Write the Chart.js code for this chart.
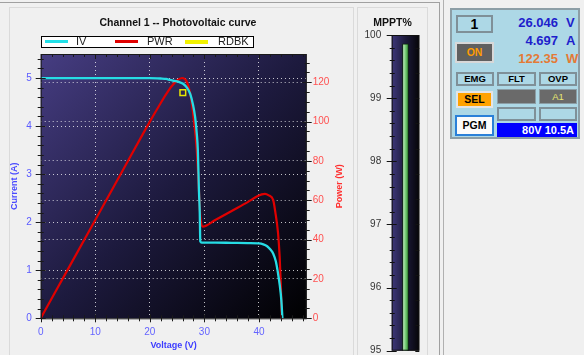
<!DOCTYPE html>
<html>
<head>
<meta charset="utf-8">
<script src="https://cdn.jsdelivr.net/npm/chart.js@4.4.1/dist/chart.umd.min.js"></script>
<style>
  body { margin: 0; width: 584px; height: 355px; background: #f0f0f0; overflow: hidden; position: relative;
         font-family: 'Liberation Sans', Arial, sans-serif; }
  .abs { position: absolute; box-sizing: border-box; }
  .txt { white-space: nowrap; }
  .lbl { border: 2px solid #7f9098; background: #add8e6; font-weight: bold; font-size: 9.5px; color: #000;
         text-align: center; line-height: 10px; }
</style>
</head>
<body>
<!-- frames -->
<div class="abs" style="left:0;top:2px;width:440px;height:1px;background:#a0a0a0"></div>
<div class="abs" style="left:439px;top:2px;width:1px;height:353px;background:#a0a0a0"></div>
<div class="abs" style="left:443px;top:0;width:1px;height:355px;background:#b0b0b0"></div>
<div class="abs" style="left:9px;top:7px;width:345px;height:360px;border:1px solid #dadada"></div>
<div class="abs" style="left:357px;top:7px;width:71px;height:360px;border:1px solid #dadada"></div>

<canvas id="pvChart" class="abs" width="354" height="355" style="left:0;top:0;width:354px;height:355px"></canvas>
<canvas id="mpptChart" class="abs" width="71" height="355" style="left:357px;top:0;width:71px;height:355px"></canvas>

<!-- titles + legend -->
<div class="abs txt" style="left:60px;top:16px;width:236px;text-align:center;font-weight:bold;font-size:10.5px;color:#111">Channel 1 -- Photovoltaic curve</div>
<div class="abs txt" style="left:357px;top:16px;width:71px;text-align:center;font-weight:bold;font-size:10.5px;color:#111">MPPT%</div>
<div class="abs" style="left:41px;top:36px;width:213px;height:12px;border:1px solid #000;background:#fff"></div>
<div class="abs" style="left:45px;top:40px;width:23px;height:3px;background:#22e0e8"></div>
<div class="abs txt" style="left:76px;top:35px;font-size:11px;line-height:13px;color:#222">IV</div>
<div class="abs" style="left:115px;top:40px;width:23px;height:3px;background:#e00000"></div>
<div class="abs txt" style="left:147px;top:35px;font-size:11px;line-height:13px;color:#222">PWR</div>
<div class="abs" style="left:185px;top:39.5px;width:23px;height:4px;background:#f2f200"></div>
<div class="abs txt" style="left:218px;top:35px;font-size:11px;line-height:13px;color:#222">RDBK</div>

<!-- status panel -->
<div class="abs" style="left:450px;top:8px;width:130px;height:131px;border:2px solid #8c9ea6;background:#add8e6"></div>
<div class="abs lbl" style="left:456px;top:15px;width:37px;height:18px;font-size:14px;line-height:14px">1</div>
<div class="abs txt" style="left:500px;top:15px;width:58px;text-align:right;font-weight:bold;font-size:13px;color:#1e1ecc">26.046</div>
<div class="abs txt" style="left:566px;top:15px;font-weight:bold;font-size:13px;color:#1e1ecc">V</div>
<div class="abs txt" style="left:500px;top:33px;width:58px;text-align:right;font-weight:bold;font-size:13px;color:#1e1ecc">4.697</div>
<div class="abs txt" style="left:566px;top:33px;font-weight:bold;font-size:13px;color:#1e1ecc">A</div>
<div class="abs txt" style="left:500px;top:51px;width:58px;text-align:right;font-weight:bold;font-size:13px;color:#e47a36">122.35</div>
<div class="abs txt" style="left:566px;top:51px;font-weight:bold;font-size:13px;color:#e47a36">W</div>
<div class="abs" style="left:455px;top:42px;width:39px;height:21px;border:2px solid #d8d8d8;background:#606060;color:#ff9c00;font-weight:bold;font-size:10.5px;text-align:center;line-height:17px">ON</div>
<div class="abs lbl" style="left:456px;top:72px;width:38px;height:14px">EMG</div>
<div class="abs lbl" style="left:497px;top:72px;width:39px;height:14px">FLT</div>
<div class="abs lbl" style="left:539px;top:72px;width:38px;height:14px">OVP</div>
<div class="abs" style="left:456px;top:91px;width:37px;height:17px;border:2px solid #e4e4e4;background:#ffa200;color:#000;font-weight:bold;font-size:10.5px;text-align:center;line-height:13px">SEL</div>
<div class="abs" style="left:497px;top:89px;width:39px;height:15px;border:1px solid #8c9ea6;background:#6a6a6a"></div>
<div class="abs" style="left:539px;top:89px;width:38px;height:15px;border:1px solid #8c9ea6;background:#6a6a6a;color:#e8e870;font-size:9.5px;text-align:center;line-height:13px">A1</div>
<div class="abs lbl" style="left:497px;top:107px;width:39px;height:14px"></div>
<div class="abs lbl" style="left:539px;top:107px;width:38px;height:14px"></div>
<div class="abs" style="left:455px;top:115px;width:39px;height:21px;border:2px solid #2a80d8;background:#fbfbfb;color:#000;font-weight:bold;font-size:10.5px;text-align:center;line-height:17px">PGM</div>
<div class="abs txt" style="left:497px;top:123px;width:80px;height:14px;background:#0000ff;color:#fff;font-weight:bold;font-size:11px;text-align:right;padding-right:3px;line-height:14px">80V 10.5A</div>

<script>
Chart.defaults.font.family = "'Liberation Sans', Arial, sans-serif";
Chart.defaults.font.size = 10;

// IV curve (readback from picture)
const ivVoltage = [0, 5, 10, 15, 20, 22, 23, 23.7, 24.5, 25.3, 26.1, 26.8, 27.4, 27.9, 28.3, 28.6, 28.8, 29.0, 29.15, 29.25, 29.5, 32, 35, 38, 40, 40.8, 41.5, 42.1, 42.6, 43.1, 43.5, 43.8, 44.1, 44.3];
const ivCurrent = [5.0, 5.0, 5.0, 5.0, 5.0, 4.99, 4.98, 4.96, 4.94, 4.92, 4.88, 4.80, 4.67, 4.45, 4.19, 3.85, 3.50, 2.66, 2.2, 1.6, 1.575, 1.575, 1.57, 1.565, 1.56, 1.54, 1.50, 1.43, 1.35, 1.18, 0.93, 0.7, 0.38, 0];

// power curve
const pwrVoltage = [0, 5, 10, 15, 20, 22, 23, 24, 25, 25.9, 26.75, 27.5, 28.0, 28.6, 29.0, 29.25, 29.7, 32, 35, 38, 39.6, 40.5, 41.1, 41.8, 42.6, 43.0, 43.5, 43.8, 44.0, 44.2];
const pwrPower = [0, 25, 50, 75, 100, 109.5, 114, 118, 121, 122.2, 120.4, 112.7, 102.6, 85.6, 65.3, 52, 46.6, 50, 54.6, 59.2, 61.9, 63.0, 63.3, 62.5, 60.2, 54, 43.3, 31, 17.8, 0];

// readback point
const rdbkVoltage = [26.046];
const rdbkCurrent = [4.697];

// tick labels
const voltageTicks = [0, 10, 20, 30, 40];
const currentTicks = [0, 1, 2, 3, 4, 5];
const powerTicks = [0, 20, 40, 60, 80, 100, 120];

// MPPT gauge
const mpptLabels = ['MPPT%'];
const mpptValues = [99.86];
const mpptTicks = [95, 96, 97, 98, 99, 100];

const toXY = (xs, ys) => xs.map((x, i) => ({ x: x, y: ys[i] }));
const setTicks = arr => scale => { scale.ticks = arr.map(v => ({ value: v })); };
const dotted = c => (c.tick && c.tick.value === 0) ? 'rgba(0,0,0,0)' : 'rgba(255,255,255,0.75)';

// dark gradient behind the plot
const plotBg = {
  id: 'plotBg',
  beforeDraw(chart, args, opts) {
    const a = chart.chartArea, ctx = chart.ctx;
    const g = opts.horizontal
      ? ctx.createLinearGradient(a.left, 0, a.right, 0)
      : ctx.createLinearGradient(a.left, a.top, a.right, a.bottom);
    g.addColorStop(0, opts.from);
    g.addColorStop(0.5, opts.mid);
    g.addColorStop(1, opts.to);
    ctx.save();
    ctx.fillStyle = g;
    ctx.fillRect(a.left, a.top, a.right - a.left, a.bottom - a.top);
    ctx.restore();
  }
};

// frame, minor ticks and the power title
const pvFrame = {
  id: 'pvFrame',
  afterDraw(chart) {
    const a = chart.chartArea, ctx = chart.ctx;
    const sx = chart.scales.x, sI = chart.scales.yI, sP = chart.scales.yP;
    ctx.save();
    ctx.strokeStyle = '#1a1a1a';
    ctx.lineWidth = 1;
    ctx.strokeRect(a.left + 0.5, a.top + 0.5, a.right - a.left - 1, a.bottom - a.top);
    ctx.beginPath();
    for (let i = 0; i <= 27; i++) {
      const v = i * 0.2, y = Math.round(sI.getPixelForValue(v)) + 0.5;
      const big = i % 5 === 0;
      ctx.moveTo(a.left - (big ? 5 : 3), y); ctx.lineTo(a.left + (big ? 5 : 3), y);
    }
    for (let i = 0; i <= 24; i++) {
      const x = Math.round(sx.getPixelForValue(i * 2)) + 0.5;
      const big = i % 5 === 0;
      ctx.moveTo(x, a.bottom - (big ? 4 : 3)); ctx.lineTo(x, a.bottom + (big ? 4 : 3));
      ctx.moveTo(x, a.top); ctx.lineTo(x, a.top + (big ? 5 : 3));
    }
    for (let i = 0; i <= 26; i++) {
      const y = Math.round(sP.getPixelForValue(i * 5)) + 0.5;
      const big = i % 4 === 0;
      ctx.moveTo(a.right - (big ? 4 : 2), y); ctx.lineTo(a.right + (big ? 5 : 3), y);
    }
    ctx.stroke();
    ctx.translate(340, (a.top + a.bottom) / 2);
    ctx.rotate(-Math.PI / 2);
    ctx.fillStyle = '#ff3030';
    ctx.font = "bold 9px 'Liberation Sans', Arial, sans-serif";
    ctx.textAlign = 'center';
    ctx.textBaseline = 'middle';
    ctx.fillText('Power (W)', 0, 0);
    ctx.restore();
  }
};

new Chart(document.getElementById('pvChart'), {
  type: 'line',
  data: {
    datasets: [
      {
        label: 'RDBK',
        data: toXY(rdbkVoltage, rdbkCurrent),
        yAxisID: 'yI',
        showLine: false,
        pointStyle: 'rect',
        pointRadius: 4,
        pointBackgroundColor: 'rgba(0,0,0,0)',
        pointBorderColor: '#e8e800',
        pointBorderWidth: 1.5,
        order: 0,
      },
      {
        label: 'IV',
        data: toXY(ivVoltage, ivCurrent),
        yAxisID: 'yI',
        borderColor: '#26dce4',
        borderWidth: 2.3,
        pointRadius: 0,
        cubicInterpolationMode: 'monotone',
        order: 1,
      },
      {
        label: 'PWR',
        data: toXY(pwrVoltage, pwrPower),
        yAxisID: 'yP',
        borderColor: '#e00000',
        borderWidth: 2.2,
        pointRadius: 0,
        cubicInterpolationMode: 'monotone',
        order: 2,
      },
    ],
  },
  options: {
    responsive: false,
    animation: false,
    layout: { padding: { top: 54, left: 0, right: 0, bottom: 0 } },
    plugins: {
      legend: { display: false },
      tooltip: { enabled: false },
      plotBg: { from: '#463d82', mid: '#1d1a3e', to: '#000000' },
    },
    scales: {
      x: {
        type: 'linear',
        min: 0,
        max: 48.75,
        afterBuildTicks: setTicks(voltageTicks),
        afterFit: s => { s.height = 36.7; },
        ticks: { color: '#6464ff', padding: 8 },
        grid: { color: dotted, drawTicks: false },
        border: { display: false, dash: [1, 3] },
        title: { display: true, text: 'Voltage (V)', color: '#3c3cff', font: { size: 9, weight: 'bold' }, padding: { top: 4, bottom: 4 } },
      },
      yI: {
        type: 'linear',
        position: 'left',
        min: 0,
        max: 5.5,
        afterBuildTicks: setTicks(currentTicks),
        afterFit: s => { s.width = 40.7; },
        ticks: { color: '#5a5aff', padding: 9 },
        grid: { color: dotted, drawTicks: false },
        border: { display: false, dash: [1, 3] },
        title: { display: true, text: 'Current (A)', color: '#4a4aff', font: { size: 9, weight: 'bold' }, padding: { top: 9, bottom: 0 } },
      },
      yP: {
        type: 'linear',
        position: 'right',
        min: 0,
        max: 134.4,
        afterBuildTicks: setTicks(powerTicks),
        afterFit: s => { s.width = 47.3; },
        ticks: { color: '#ff5050', padding: 6 },
        grid: { color: dotted, drawTicks: false },
        border: { display: false, dash: [1, 3] },
      },
    },
  },
  plugins: [plotBg, pvFrame],
});

// MPPT gauge ticks
const mpptFrame = {
  id: 'mpptFrame',
  afterDraw(chart) {
    const a = chart.chartArea, ctx = chart.ctx, s = chart.scales.y;
    ctx.save();
    ctx.strokeStyle = '#111';
    ctx.lineWidth = 1;
    ctx.strokeRect(a.left + 0.5, a.top + 0.5, a.right - a.left - 1, a.bottom - a.top - 1);
    ctx.beginPath();
    for (let i = 0; i <= 25; i++) {
      const y = Math.round(s.getPixelForValue(95 + i * 0.2)) + 0.5;
      const big = i % 5 === 0;
      ctx.moveTo(a.left - (big ? 5 : 2), y); ctx.lineTo(a.left + (big ? 5 : 3), y);
    }
    for (let i = 0; i < 13; i++) {
      const y = Math.round(s.getPixelForValue(99.8 - i * 0.4)) + 0.5;
      ctx.moveTo(a.right - 4, y); ctx.lineTo(a.right, y);
    }
    ctx.stroke();
    ctx.restore();
  }
};

new Chart(document.getElementById('mpptChart'), {
  type: 'bar',
  data: {
    labels: mpptLabels,
    datasets: [{
      data: mpptValues,
      barThickness: 6,
      borderColor: '#0e2a0e',
      borderWidth: 1,
      borderSkipped: false,
      backgroundColor: c => {
        const a = c.chart.chartArea;
        if (!a) return '#6c6';
        const m = (a.left + a.right) / 2;
        const g = c.chart.ctx.createLinearGradient(m - 3, 0, m + 3, 0);
        g.addColorStop(0, '#d8f8d8');
        g.addColorStop(0.45, '#7ed07e');
        g.addColorStop(1, '#2f8f2f');
        return g;
      },
    }],
  },
  options: {
    responsive: false,
    animation: false,
    layout: { padding: { top: 35, left: 0, right: 8.7, bottom: 4.3 } },
    plugins: {
      legend: { display: false },
      tooltip: { enabled: false },
      plotBg: { horizontal: true, from: '#3e377a', mid: '#1c1a3a', to: '#050508' },
    },
    scales: {
      x: { display: false },
      y: {
        min: 95,
        max: 100,
        afterBuildTicks: setTicks(mpptTicks),
        afterFit: s => { s.width = 34.7; s.paddingTop = 0; s.paddingBottom = 0; },
        ticks: { color: '#333', padding: 10.5 },
        grid: { display: false, drawTicks: false },
        border: { display: false },
      },
    },
  },
  plugins: [plotBg, mpptFrame],
});
</script>
</body>
</html>
